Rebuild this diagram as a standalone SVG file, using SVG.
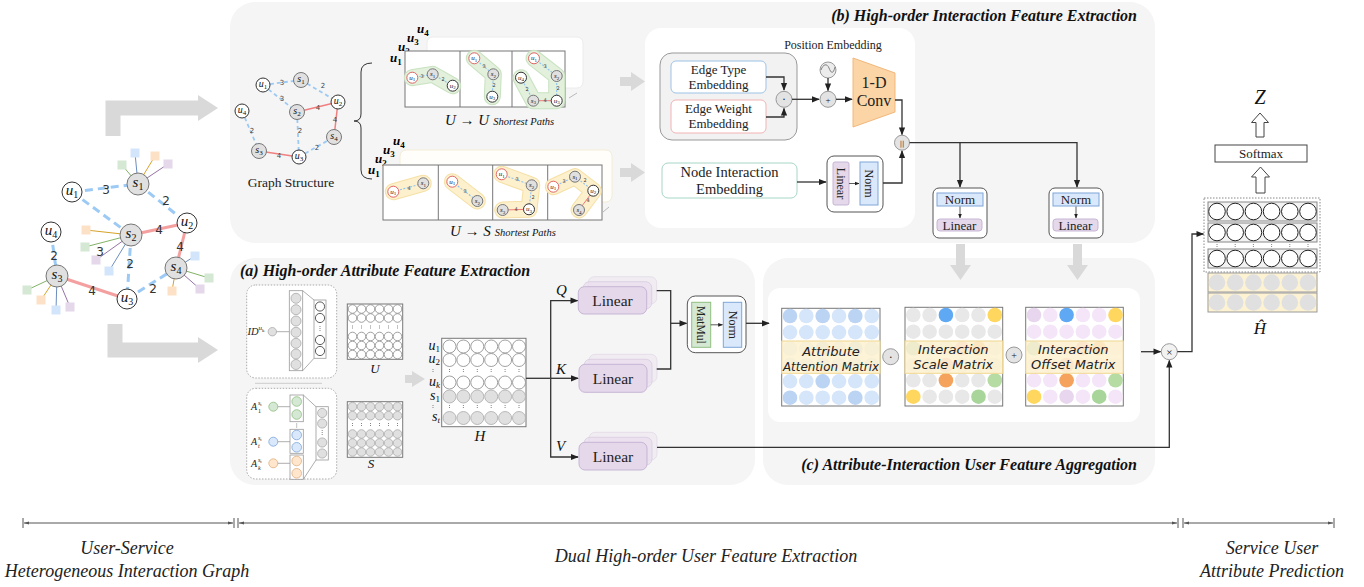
<svg xmlns="http://www.w3.org/2000/svg" width="1364" height="587" viewBox="0 0 1364 587">
<defs>
<style>
.pan{fill:#f5f5f5}
.serif{font-family:"Liberation Serif","Times New Roman",serif}
.it{font-style:italic}
.bi{font-style:italic;font-weight:bold}
.sans{font-family:"DejaVu Sans","Liberation Sans",sans-serif}
.un{fill:#fff;stroke:#333;stroke-width:1}
.ur{fill:#fff;stroke:#e06666;stroke-width:1}
.sn{fill:#e0e0e0;stroke:#777;stroke-width:1}
.de{stroke:#9ccaf5;stroke-width:3;stroke-dasharray:8 5;fill:none}
.re{stroke:#f4a0a0;stroke-width:3;fill:none}
.des{stroke:#9ccaf5;stroke-width:1.8;stroke-dasharray:4 3;fill:none}
.res{stroke:#f08080;stroke-width:1.5;fill:none}
.dec{stroke:#8fc3f3;stroke-width:1.1;stroke-dasharray:2 1.5;fill:none}
.rec{stroke:#ee7d7d;stroke-width:1;fill:none}
.el{font-family:"DejaVu Sans",sans-serif;font-size:12px;fill:#333;text-anchor:middle}
.els{font-family:"DejaVu Sans",sans-serif;font-size:7px;fill:#444;text-anchor:middle}
.elc{font-family:"DejaVu Sans",sans-serif;font-size:5px;fill:#444;text-anchor:middle}
.nl{font-family:"Liberation Serif",serif;font-style:italic;font-size:15px;text-anchor:middle;fill:#111}
.nls{font-family:"Liberation Serif",serif;font-style:italic;font-size:10px;text-anchor:middle;fill:#111}
.nlc{font-family:"Liberation Serif",serif;font-style:italic;font-size:7px;text-anchor:middle;fill:#111}
.sb{font-style:normal}
.c{stroke:#333;stroke-width:1.3;fill:none}
.ca{stroke:#333;stroke-width:1.3;fill:none;marker-end:url(#ah)}
.cs{stroke:#333;stroke-width:0.8;fill:none;marker-end:url(#ah)}
.ga{fill:#d9d9d9}
.box{fill:#fff;stroke:#555;stroke-width:1}
.norm{fill:#dae8fc;stroke:#7ea6d8;stroke-width:1}
.lin{fill:#e4d8ea;stroke:#c7b5d5;stroke-width:1}
.mm{fill:#d5e8d4;stroke:#8fbf80;stroke-width:1}
.lbl{font-family:"Liberation Serif","Times New Roman",serif;fill:#222;text-anchor:middle}
.op{fill:#e3e3e3;stroke:#999;stroke-width:1}
.mt{font-family:"DejaVu Sans",sans-serif;font-style:italic;font-size:13px;fill:#222;text-anchor:middle}
.band{fill:#fdf1cf;fill-opacity:0.85;stroke:#f0d890;stroke-width:1}
.mx{fill:#fff;stroke:#777;stroke-width:1}
.cw{fill:#fff;stroke:#888;stroke-width:0.8}
.cg{fill:#e0e0e0;stroke:#aaa;stroke-width:0.8}
.dots{stroke:#666;stroke-width:0.8;stroke-dasharray:1 1}
.ax{stroke:#555;stroke-width:1;fill:none}
.axt{font-family:"Liberation Serif","Times New Roman",serif;font-style:italic;font-size:18px;fill:#222;text-anchor:middle}
.ttl{font-family:"Liberation Serif","Times New Roman",serif;font-style:italic;font-weight:bold;font-size:16px;fill:#111}
</style>
<marker id="ah" viewBox="0 0 10 10" refX="9" refY="5" markerWidth="6" markerHeight="6" orient="auto"><path d="M0,1 L10,5 L0,9 z" fill="#222"/></marker>
<marker id="axm" viewBox="0 0 10 10" refX="10" refY="5" markerWidth="5" markerHeight="5" orient="auto-start-reverse"><path d="M0,2 L10,5 L0,8 z" fill="#555"/></marker>
</defs>
<rect width="1364" height="587" fill="#fff"/>

<!-- panels -->
<g id="panels">
<rect x="230" y="2" width="925" height="241" rx="25" class="pan"/>
<rect x="230" y="258" width="525" height="227" rx="25" class="pan"/>
<rect x="763" y="258" width="392" height="227" rx="25" class="pan"/>
<rect x="645" y="28" width="270" height="200" rx="16" fill="#fff"/>
<rect x="768" y="288" width="372" height="134" rx="12" fill="#fff"/>
<text x="1137" y="21" class="ttl" text-anchor="end" font-size="16.8">(b) High-order Interaction Feature Extraction</text>
<text x="240" y="276" class="ttl">(a) High-order Attribute Feature Extraction</text>
<text x="1137" y="470" class="ttl" text-anchor="end" font-size="15.6">(c) Attribute-Interaction User Feature Aggregation</text>
</g>

<!-- big gray arrows -->
<g id="gray-arrows">
<path d="M113,136 V108 H200" stroke="#d9d9d9" stroke-width="15" fill="none"/>
<polygon points="198,95 218,108 198,121" class="ga"/>
<path d="M115,324 V350 H200" stroke="#d9d9d9" stroke-width="15" fill="none"/>
<polygon points="198,337 218,350 198,363" class="ga"/>
<rect x="620" y="77" width="12" height="9" class="ga"/><polygon points="631,72 645,81.5 631,91" class="ga"/>
<rect x="620" y="168" width="12" height="9" class="ga"/><polygon points="631,163 645,172.5 631,182" class="ga"/>
<rect x="405" y="375" width="8" height="8" class="ga"/><polygon points="412,371 425,379 412,387" class="ga"/>
<rect x="956" y="244" width="9" height="22" class="ga"/><polygon points="950,265 960.5,280 971,265" class="ga"/>
<rect x="1073" y="244" width="9" height="22" class="ga"/><polygon points="1067,265 1077.5,280 1088,265" class="ga"/>
</g>

<!-- left heterogeneous graph -->
<g id="left-graph">
<g id="attrs">
<line x1="138" y1="184" x2="135" y2="153" stroke="#6c8ebf"/><line x1="138" y1="184" x2="155" y2="156" stroke="#d6a32a"/><line x1="138" y1="184" x2="122" y2="165" stroke="#82b366"/><line x1="138" y1="184" x2="168" y2="164" stroke="#9673a6"/>
<rect x="130.5" y="148.5" width="9" height="9" fill="#d3e5fb"/><rect x="150.5" y="151.5" width="9" height="9" fill="#fde1c6"/><rect x="117.5" y="160.5" width="9" height="9" fill="#d5e8d4"/><rect x="163.5" y="159.5" width="9" height="9" fill="#e4d8ea"/>
<line x1="131" y1="235" x2="86" y2="230" stroke="#d6a32a"/><line x1="131" y1="235" x2="85" y2="247" stroke="#82b366"/><line x1="131" y1="235" x2="96" y2="260" stroke="#9673a6"/><line x1="131" y1="235" x2="109" y2="271" stroke="#6c8ebf"/>
<rect x="81.5" y="225.5" width="9" height="9" fill="#fde1c6"/><rect x="80.5" y="242.5" width="9" height="9" fill="#d5e8d4"/><rect x="91.5" y="255.5" width="9" height="9" fill="#e4d8ea"/><rect x="104.5" y="266.5" width="9" height="9" fill="#d3e5fb"/>
<line x1="57" y1="276" x2="27" y2="290" stroke="#82b366"/><line x1="57" y1="276" x2="41" y2="300" stroke="#d6a32a"/><line x1="57" y1="276" x2="56" y2="310" stroke="#6c8ebf"/><line x1="57" y1="276" x2="70" y2="307" stroke="#9673a6"/>
<rect x="22.5" y="285.5" width="9" height="9" fill="#d5e8d4"/><rect x="36.5" y="295.5" width="9" height="9" fill="#fde1c6"/><rect x="51.5" y="305.5" width="9" height="9" fill="#d3e5fb"/><rect x="65.5" y="302.5" width="9" height="9" fill="#e4d8ea"/>
<line x1="176" y1="268" x2="195" y2="256" stroke="#6c8ebf"/><line x1="176" y1="268" x2="209" y2="278" stroke="#82b366"/><line x1="176" y1="268" x2="200" y2="289" stroke="#9673a6"/><line x1="176" y1="268" x2="172" y2="291" stroke="#d6a32a"/>
<rect x="190.5" y="251.5" width="9" height="9" fill="#d3e5fb"/><rect x="204.5" y="273.5" width="9" height="9" fill="#d5e8d4"/><rect x="195.5" y="284.5" width="9" height="9" fill="#e4d8ea"/><rect x="167.5" y="286.5" width="9" height="9" fill="#fde1c6"/>
</g>
<g id="left-edges">
<line x1="72" y1="192" x2="138" y2="184" class="de"/>
<line x1="72" y1="192" x2="131" y2="235" class="de"/>
<line x1="138" y1="184" x2="187" y2="223" class="de"/>
<line x1="131" y1="235" x2="187" y2="223" class="re"/>
<line x1="187" y1="223" x2="176" y2="268" class="re"/>
<line x1="51" y1="232" x2="57" y2="276" class="de"/>
<line x1="57" y1="276" x2="127" y2="299" class="re"/>
<line x1="131" y1="235" x2="127" y2="299" class="de"/>
<line x1="127" y1="299" x2="176" y2="268" class="de"/>
<text x="106" y="194" class="el">3</text>
<text x="100" y="256" class="el">3</text>
<text x="166" y="205" class="el">2</text>
<text x="159" y="234" class="el">4</text>
<text x="180" y="251" class="el">4</text>
<text x="54" y="260" class="el">2</text>
<text x="92" y="295" class="el">4</text>
<text x="130" y="268" class="el">2</text>
<text x="153" y="293" class="el">2</text>
</g>
<g id="L-u1"><circle cx="72" cy="192" r="10" class="un"/><text x="72" y="195" class="nl">u<tspan class="sb" font-size="10" dy="3">1</tspan></text></g>
<g id="L-s1"><circle cx="138" cy="184" r="11" class="sn"/><text x="138" y="187" class="nl">s<tspan class="sb" font-size="10" dy="3">1</tspan></text></g>
<g id="L-u2"><circle cx="187" cy="223" r="10" class="un"/><text x="187" y="226" class="nl">u<tspan class="sb" font-size="10" dy="3">2</tspan></text></g>
<g id="L-s2"><circle cx="131" cy="235" r="11" class="sn"/><text x="131" y="238" class="nl">s<tspan class="sb" font-size="10" dy="3">2</tspan></text></g>
<g id="L-u4"><circle cx="51" cy="232" r="10" class="un"/><text x="51" y="235" class="nl">u<tspan class="sb" font-size="10" dy="3">4</tspan></text></g>
<g id="L-s3"><circle cx="57" cy="276" r="11" class="sn"/><text x="57" y="279" class="nl">s<tspan class="sb" font-size="10" dy="3">3</tspan></text></g>
<g id="L-s4"><circle cx="176" cy="268" r="11" class="sn"/><text x="176" y="271" class="nl">s<tspan class="sb" font-size="10" dy="3">4</tspan></text></g>
<g id="L-u3"><circle cx="127" cy="299" r="10" class="un"/><text x="127" y="302" class="nl">u<tspan class="sb" font-size="10" dy="3">3</tspan></text></g>
</g>

<!-- graph structure in (b) -->
<g id="graph-structure">
<line x1="263" y1="85" x2="301" y2="80" class="des"/>
<line x1="263" y1="85" x2="297" y2="112" class="des"/>
<line x1="301" y1="80" x2="338" y2="102" class="des"/>
<line x1="297" y1="112" x2="338" y2="102" class="res"/>
<line x1="338" y1="102" x2="334" y2="137" class="res"/>
<line x1="242" y1="111" x2="259" y2="151" class="des"/>
<line x1="259" y1="151" x2="299" y2="157" class="res"/>
<line x1="297" y1="112" x2="299" y2="157" class="des"/>
<line x1="299" y1="157" x2="334" y2="137" class="des"/>
<text x="282" y="85" class="els">3</text><text x="282" y="101" class="els">3</text><text x="323" y="88" class="els">2</text><text x="318" y="110" class="els">4</text><text x="335" y="122" class="els">4</text><text x="252" y="133" class="els">2</text><text x="279" y="158" class="els">4</text><text x="300" y="133" class="els">2</text><text x="317" y="150" class="els">2</text>
<circle cx="263" cy="85" r="7" class="un"/><text x="263" y="87" class="nls">u<tspan class="sb" font-size="7" dy="2">1</tspan></text>
<circle cx="301" cy="80" r="7.5" class="sn"/><text x="301" y="82" class="nls">s<tspan class="sb" font-size="7" dy="2">1</tspan></text>
<circle cx="338" cy="102" r="7" class="un"/><text x="338" y="104" class="nls">u<tspan class="sb" font-size="7" dy="2">2</tspan></text>
<circle cx="297" cy="112" r="7.5" class="sn"/><text x="297" y="114" class="nls">s<tspan class="sb" font-size="7" dy="2">2</tspan></text>
<circle cx="242" cy="111" r="7" class="un"/><text x="242" y="113" class="nls">u<tspan class="sb" font-size="7" dy="2">4</tspan></text>
<circle cx="259" cy="151" r="7.5" class="sn"/><text x="259" y="153" class="nls">s<tspan class="sb" font-size="7" dy="2">3</tspan></text>
<circle cx="299" cy="157" r="7" class="un"/><text x="299" y="159" class="nls">u<tspan class="sb" font-size="7" dy="2">3</tspan></text>
<circle cx="334" cy="137" r="7.5" class="sn"/><text x="334" y="139" class="nls">s<tspan class="sb" font-size="7" dy="2">4</tspan></text>
<text x="291" y="187" class="lbl" font-size="13.5">Graph Structure</text>
<path d="M372,63 Q361,63 361,72 V114 Q361,121 354,121 Q361,121 361,128 V170 Q361,179 372,179" fill="none" stroke="#333" stroke-width="1"/>
</g>

<!-- U->U shortest paths -->
<g id="uu-paths">
<rect x="427" y="37" width="156" height="51" rx="6" fill="#fff" stroke="#ececec"/>
<text x="417" y="33" class="serif bi" font-size="13">u<tspan class="sb" font-size="9" dy="3">4</tspan></text>
<text x="407" y="42" class="serif bi" font-size="13">u<tspan class="sb" font-size="9" dy="3">3</tspan></text>
<text x="398" y="51" class="serif bi" font-size="13">u<tspan class="sb" font-size="9" dy="3">2</tspan></text>
<text x="390" y="62" class="serif bi" font-size="13">u<tspan class="sb" font-size="9" dy="3">1</tspan></text>
<rect x="405" y="51" width="160" height="56" fill="#fff" stroke="#777"/>
<line x1="460" y1="51" x2="460" y2="107" stroke="#777"/><line x1="512" y1="51" x2="512" y2="107" stroke="#777"/>
<line x1="569" y1="98" x2="577" y2="93" stroke="#aaa" stroke-width="0.8"/>
<g fill="none" stroke-linecap="round" stroke-linejoin="round">
<polyline points="412.3,77.7 432.7,74.3 452.7,85.7" stroke="#c8e2c0" stroke-width="17"/>
<polyline points="474.3,58.3 493.3,74.3 492.3,96.7" stroke="#c8e2c0" stroke-width="17"/>
<polyline points="534,58.3 556.7,76 556.7,100.7 533.3,100.7 521,77.7" stroke="#c8e2c0" stroke-width="17"/>
<polyline points="412.3,77.7 432.7,74.3 452.7,85.7" stroke="#e2f0dc" stroke-width="15"/>
<polyline points="474.3,58.3 493.3,74.3 492.3,96.7" stroke="#e2f0dc" stroke-width="15"/>
<polyline points="534,58.3 556.7,76 556.7,100.7 533.3,100.7 521,77.7" stroke="#e2f0dc" stroke-width="15"/>
</g>
<line x1="412.3" y1="77.7" x2="432.7" y2="74.3" class="dec"/><line x1="432.7" y1="74.3" x2="452.7" y2="85.7" class="dec"/>
<line x1="474.3" y1="58.3" x2="493.3" y2="74.3" class="dec"/><line x1="493.3" y1="74.3" x2="492.3" y2="96.7" class="dec"/>
<line x1="534" y1="58.3" x2="556.7" y2="76" class="dec"/><line x1="556.7" y1="76" x2="556.7" y2="100.7" class="dec"/><line x1="556.7" y1="100.7" x2="533.3" y2="100.7" class="rec"/><line x1="533.3" y1="100.7" x2="521" y2="77.7" class="dec"/>
<text x="422" y="78" class="elc">3</text><text x="443" y="81" class="elc">2</text>
<text x="484" y="68" class="elc">3</text><text x="494" y="87" class="elc">2</text>
<text x="545" y="68" class="elc">3</text><text x="558" y="90" class="elc">2</text><text x="545" y="102" class="elc">4</text><text x="527" y="91" class="elc">2</text>
<circle cx="412.3" cy="77.7" r="5.5" class="ur"/><text x="412.3" y="79.5" class="nlc">u<tspan class="sb" font-size="5" dy="1.5">1</tspan></text>
<circle cx="432.7" cy="74.3" r="5.5" class="sn"/><text x="432.7" y="76" class="nlc">s<tspan class="sb" font-size="5" dy="1.5">1</tspan></text>
<circle cx="452.7" cy="85.7" r="5.5" class="un"/><text x="452.7" y="87.5" class="nlc">u<tspan class="sb" font-size="5" dy="1.5">2</tspan></text>
<circle cx="474.3" cy="58.3" r="5.5" class="ur"/><text x="474.3" y="60" class="nlc">u<tspan class="sb" font-size="5" dy="1.5">1</tspan></text>
<circle cx="493.3" cy="74.3" r="5.5" class="sn"/><text x="493.3" y="76" class="nlc">s<tspan class="sb" font-size="5" dy="1.5">2</tspan></text>
<circle cx="492.3" cy="96.7" r="5.5" class="un"/><text x="492.3" y="98.5" class="nlc">u<tspan class="sb" font-size="5" dy="1.5">3</tspan></text>
<circle cx="534" cy="58.3" r="5.5" class="ur"/><text x="534" y="60" class="nlc">u<tspan class="sb" font-size="5" dy="1.5">1</tspan></text>
<circle cx="556.7" cy="76" r="5.5" class="sn"/><text x="556.7" y="78" class="nlc">s<tspan class="sb" font-size="5" dy="1.5">2</tspan></text>
<circle cx="556.7" cy="100.7" r="5.5" class="un"/><text x="556.7" y="102.5" class="nlc">u<tspan class="sb" font-size="5" dy="1.5">3</tspan></text>
<circle cx="533.3" cy="100.7" r="5.5" class="sn"/><text x="533.3" y="102.5" class="nlc">s<tspan class="sb" font-size="5" dy="1.5">3</tspan></text>
<circle cx="521" cy="77.7" r="5.5" class="un"/><text x="521" y="79.5" class="nlc">u<tspan class="sb" font-size="5" dy="1.5">4</tspan></text>
<text x="445" y="125" class="serif it" font-size="15" fill="#111">U → U<tspan font-size="10.5" dx="4">Shortest Paths</tspan></text>
</g>

<!-- U->S shortest paths -->
<g id="us-paths">
<rect x="400" y="150" width="212" height="52" rx="6" fill="#fffefa" stroke="#f3ecd5"/>
<text x="393" y="145" class="serif bi" font-size="13">u<tspan class="sb" font-size="9" dy="3">4</tspan></text>
<text x="383" y="154" class="serif bi" font-size="13">u<tspan class="sb" font-size="9" dy="3">3</tspan></text>
<text x="375" y="163" class="serif bi" font-size="13">u<tspan class="sb" font-size="9" dy="3">2</tspan></text>
<text x="368" y="174" class="serif bi" font-size="13">u<tspan class="sb" font-size="9" dy="3">1</tspan></text>
<rect x="383" y="165" width="219" height="55" fill="#fff" stroke="#777"/>
<line x1="438.3" y1="165" x2="438.3" y2="220" stroke="#777"/><line x1="492.7" y1="165" x2="492.7" y2="220" stroke="#777"/><line x1="547.7" y1="165" x2="547.7" y2="220" stroke="#777"/>
<line x1="603" y1="212" x2="609" y2="207" stroke="#aaa" stroke-width="0.8"/>
<g fill="none" stroke-linecap="round" stroke-linejoin="round">
<polyline points="393.3,191.7 423.3,183.3" stroke="#f5e0a6" stroke-width="17"/>
<polyline points="452.3,181.7 477.3,201" stroke="#f5e0a6" stroke-width="17"/>
<polyline points="501.7,174.3 531.7,185.3 529,209.3 502.7,210" stroke="#f5e0a6" stroke-width="17"/>
<polyline points="553.3,186.7 575,176.7 593.3,190.7 579,210" stroke="#f5e0a6" stroke-width="17"/>
<polyline points="393.3,191.7 423.3,183.3" stroke="#fdf0cd" stroke-width="15"/>
<polyline points="452.3,181.7 477.3,201" stroke="#fdf0cd" stroke-width="15"/>
<polyline points="501.7,174.3 531.7,185.3 529,209.3 502.7,210" stroke="#fdf0cd" stroke-width="15"/>
<polyline points="553.3,186.7 575,176.7 593.3,190.7 579,210" stroke="#fdf0cd" stroke-width="15"/>
</g>
<line x1="393.3" y1="191.7" x2="423.3" y2="183.3" class="dec"/>
<line x1="452.3" y1="181.7" x2="477.3" y2="201" class="dec"/>
<line x1="501.7" y1="174.3" x2="531.7" y2="185.3" class="dec"/><line x1="531.7" y1="185.3" x2="529" y2="209.3" class="dec"/><line x1="529" y1="209.3" x2="502.7" y2="210" class="rec"/>
<line x1="553.3" y1="186.7" x2="575" y2="176.7" class="dec"/><line x1="575" y1="176.7" x2="593.3" y2="190.7" class="dec"/><line x1="593.3" y1="190.7" x2="579" y2="210" class="rec"/>
<text x="409" y="190" class="elc">4</text>
<text x="465" y="193" class="elc">3</text>
<text x="517" y="181" class="elc">3</text><text x="533" y="199" class="elc">2</text><text x="516" y="211" class="elc">4</text>
<text x="564" y="183" class="elc">3</text><text x="585" y="182" class="elc">2</text><text x="588" y="202" class="elc">4</text>
<circle cx="393.3" cy="191.7" r="5.5" class="ur"/><text x="393.3" y="193.5" class="nlc">u<tspan class="sb" font-size="5" dy="1.5">1</tspan></text>
<circle cx="423.3" cy="183.3" r="5.5" class="sn"/><text x="423.3" y="185" class="nlc">s<tspan class="sb" font-size="5" dy="1.5">1</tspan></text>
<circle cx="452.3" cy="181.7" r="5.5" class="ur"/><text x="452.3" y="183.5" class="nlc">u<tspan class="sb" font-size="5" dy="1.5">1</tspan></text>
<circle cx="477.3" cy="201" r="5.5" class="sn"/><text x="477.3" y="203" class="nlc">s<tspan class="sb" font-size="5" dy="1.5">2</tspan></text>
<circle cx="501.7" cy="174.3" r="5.5" class="ur"/><text x="501.7" y="176" class="nlc">u<tspan class="sb" font-size="5" dy="1.5">1</tspan></text>
<circle cx="531.7" cy="185.3" r="5.5" class="sn"/><text x="531.7" y="187" class="nlc">s<tspan class="sb" font-size="5" dy="1.5">2</tspan></text>
<circle cx="529" cy="209.3" r="5.5" class="un"/><text x="529" y="211" class="nlc">u<tspan class="sb" font-size="5" dy="1.5">3</tspan></text>
<circle cx="502.7" cy="210" r="5.5" class="sn"/><text x="502.7" y="212" class="nlc">s<tspan class="sb" font-size="5" dy="1.5">3</tspan></text>
<circle cx="553.3" cy="186.7" r="5.5" class="ur"/><text x="553.3" y="188.5" class="nlc">u<tspan class="sb" font-size="5" dy="1.5">1</tspan></text>
<circle cx="575" cy="176.7" r="5.5" class="sn"/><text x="575" y="178.5" class="nlc">s<tspan class="sb" font-size="5" dy="1.5">1</tspan></text>
<circle cx="593.3" cy="190.7" r="5.5" class="un"/><text x="593.3" y="192.5" class="nlc">u<tspan class="sb" font-size="5" dy="1.5">2</tspan></text>
<circle cx="579" cy="210" r="5.5" class="sn"/><text x="579" y="212" class="nlc">s<tspan class="sb" font-size="5" dy="1.5">4</tspan></text>
<text x="450" y="236" class="serif it" font-size="15" fill="#111">U → S<tspan font-size="10.5" dx="4">Shortest Paths</tspan></text>
</g>

<!-- embeddings -->
<g id="edge-emb-group"><rect x="660" y="53" width="137" height="87" rx="12" fill="#f2f2f2" stroke="#999"/></g>
<g id="edge-type"><rect x="671" y="61" width="95" height="32" rx="5" fill="#fff" stroke="#9dc3e6"/><text x="718.5" y="74" class="lbl" font-size="13">Edge Type</text><text x="718.5" y="89" class="lbl" font-size="13">Embedding</text></g>
<g id="edge-weight"><rect x="671" y="100" width="95" height="33" rx="5" fill="#fff" stroke="#f2b3b3"/><text x="718.5" y="113" class="lbl" font-size="13">Edge Weight</text><text x="718.5" y="128" class="lbl" font-size="13">Embedding</text></g>
<g id="dot-op"><circle cx="784" cy="99.3" r="8" class="op"/><text x="784" y="103" class="lbl" font-size="12">·</text></g>
<g id="plus-op"><circle cx="828" cy="99.3" r="8" class="op"/><text x="828" y="102.5" class="lbl" font-size="9">+</text></g>
<g id="pos-emb"><circle cx="828" cy="70" r="8" fill="#ececec" stroke="#999"/><path d="M821,70 C823,64 827,63 829,68 S833,75 835,67" fill="none" stroke="#666" stroke-width="0.8"/><text x="833" y="49" class="lbl" font-size="12">Position Embedding</text></g>
<g id="conv"><polygon points="853,58 895,73 895,112 853,127" fill="#fbd5a5" stroke="#f2b77a"/><text x="874" y="88" class="lbl" font-size="16">1-D</text><text x="874" y="106" class="lbl" font-size="16">Conv</text></g>
<g id="concat"><circle cx="902" cy="142.7" r="7.5" class="op" fill="#eee"/><text x="902" y="145.5" class="sans" font-size="7" text-anchor="middle" fill="#333">||</text></g>
<g id="node-inter"><rect x="662" y="163" width="135" height="35" rx="6" fill="#fff" stroke="#a6d6c4"/><text x="729.5" y="177" class="lbl" font-size="14.5">Node Interaction</text><text x="729.5" y="194" class="lbl" font-size="14.5">Embedding</text></g>
<g id="lin-norm-b"><rect x="827" y="156" width="56" height="56" rx="7" class="box"/><rect x="833" y="162" width="16" height="43" rx="2" class="lin"/><rect x="860" y="162" width="18" height="43" class="norm"/><text transform="translate(841,183.5) rotate(90)" class="lbl" font-size="12" dominant-baseline="central">Linear</text><text transform="translate(869,183.5) rotate(90)" class="lbl" font-size="12" dominant-baseline="central">Norm</text></g>
<g id="norm-lin-1"><rect x="933" y="188" width="54" height="50" rx="6" class="box"/><rect x="937" y="193" width="46" height="13" class="norm"/><text x="960" y="204" class="lbl" font-size="13">Norm</text><rect x="937" y="219" width="45" height="12" rx="3" class="lin"/><text x="959.5" y="229.5" class="lbl" font-size="13">Linear</text></g>
<g id="norm-lin-2"><rect x="1049" y="188" width="54" height="50" rx="6" class="box"/><rect x="1053" y="193" width="46" height="13" class="norm"/><text x="1076" y="204" class="lbl" font-size="13">Norm</text><rect x="1053" y="219" width="45" height="12" rx="3" class="lin"/><text x="1075.5" y="229.5" class="lbl" font-size="13">Linear</text></g>

<!-- panel (a) -->
<g id="id-encoder">
<rect x="246.7" y="285" width="90" height="93" rx="9" fill="#fff" stroke="#aaa" stroke-dasharray="1.5 1.5"/>
<text x="247.5" y="335" class="serif it" font-size="10.5" fill="#222">ID<tspan font-size="7" dy="-5">u</tspan><tspan class="sb" font-size="5" dy="1.5">k</tspan></text>
<circle cx="272.3" cy="331.7" r="4.2" class="cg"/>
<line x1="276.5" y1="331.7" x2="289.3" y2="331.7" stroke="#999" stroke-width="0.8"/>
<rect x="289.3" y="290.7" width="13.4" height="80" fill="#fff" stroke="#999" stroke-width="0.8"/>
<circle cx="296" cy="298.3" r="5" class="cg"/><circle cx="296" cy="309.7" r="5" class="cg"/><circle cx="296" cy="321" r="5" class="cg"/><circle cx="296" cy="332.3" r="5" class="cg"/><circle cx="296" cy="343.3" r="5" class="cg"/><circle cx="296" cy="354" r="5" class="cg"/><circle cx="296" cy="364.5" r="5" class="cg"/>
<line x1="302.7" y1="290.7" x2="314" y2="300" stroke="#999" stroke-width="0.8"/><line x1="302.7" y1="370.7" x2="314" y2="358.3" stroke="#999" stroke-width="0.8"/>
<rect x="314" y="300" width="12" height="58.3" fill="#fff" stroke="#999" stroke-width="0.8"/>
<circle cx="320" cy="306.5" r="4.6" fill="#fff" stroke="#333" stroke-width="0.8"/><circle cx="320" cy="318" r="4.6" fill="#fff" stroke="#333" stroke-width="0.8"/><line x1="320" y1="326" x2="320" y2="332" class="dots"/><circle cx="320" cy="340" r="4.6" fill="#fff" stroke="#333" stroke-width="0.8"/><circle cx="320" cy="351" r="4.6" fill="#fff" stroke="#333" stroke-width="0.8"/>
</g>
<line x1="255" y1="383.3" x2="322" y2="383.3" stroke="#ccc" stroke-width="1"/>
<g id="attr-encoder">
<rect x="246.7" y="388.3" width="90" height="90.7" rx="9" fill="#fff" stroke="#aaa" stroke-dasharray="1.5 1.5"/>
<text x="251" y="410" class="serif it" font-size="10" fill="#222">A</text><text x="258" y="405" class="serif it" font-size="6" fill="#222">s<tspan class="sb" font-size="4.5" dy="1">t</tspan></text><text x="258" y="412.5" class="serif" font-size="6" fill="#222">1</text>
<text x="251" y="445" class="serif it" font-size="10" fill="#222">A</text><text x="258" y="440" class="serif it" font-size="6" fill="#222">s<tspan class="sb" font-size="4.5" dy="1">t</tspan></text><text x="258" y="447.5" class="serif it" font-size="6" fill="#222">t</text>
<text x="251" y="467" class="serif it" font-size="10" fill="#222">A</text><text x="258" y="462" class="serif it" font-size="6" fill="#222">s<tspan class="sb" font-size="4.5" dy="1">t</tspan></text><text x="258" y="469.5" class="serif it" font-size="6" fill="#222">k</text>
<circle cx="273.3" cy="406.7" r="4.5" fill="#d5e8d4" stroke="#8fbf80" stroke-width="0.8"/><circle cx="273.3" cy="441.7" r="4.5" fill="#dae8fc" stroke="#7ea6d8" stroke-width="0.8"/><circle cx="273.3" cy="463.3" r="4.5" fill="#ffe6cc" stroke="#e0b080" stroke-width="0.8"/>
<line x1="277.8" y1="406.7" x2="290" y2="406.7" stroke="#999" stroke-width="0.8"/><line x1="277.8" y1="441.7" x2="290" y2="441.7" stroke="#999" stroke-width="0.8"/><line x1="277.8" y1="463.3" x2="290" y2="463.3" stroke="#999" stroke-width="0.8"/>
<rect x="290" y="395" width="13.3" height="26.7" fill="#fff" stroke="#999" stroke-width="0.8"/><circle cx="296.7" cy="401.5" r="4.8" fill="#d5e8d4" stroke="#8fbf80" stroke-width="0.8"/><circle cx="296.7" cy="414.5" r="4.8" fill="#d5e8d4" stroke="#8fbf80" stroke-width="0.8"/>
<line x1="296.7" y1="423.5" x2="296.7" y2="428" class="dots"/>
<rect x="290" y="429.3" width="13.3" height="24" fill="#fff" stroke="#999" stroke-width="0.8"/><circle cx="296.7" cy="435" r="4.8" fill="#dae8fc" stroke="#7ea6d8" stroke-width="0.8"/><circle cx="296.7" cy="447.3" r="4.8" fill="#dae8fc" stroke="#7ea6d8" stroke-width="0.8"/>
<rect x="290" y="455" width="13.3" height="24.3" fill="#fff" stroke="#999" stroke-width="0.8"/><circle cx="296.7" cy="461" r="4.8" fill="#ffe6cc" stroke="#e0b080" stroke-width="0.8"/><circle cx="296.7" cy="473.3" r="4.8" fill="#ffe6cc" stroke="#e0b080" stroke-width="0.8"/>
<line x1="303.3" y1="395" x2="316" y2="406.7" stroke="#999" stroke-width="0.8"/><line x1="303.3" y1="479.3" x2="316" y2="460" stroke="#999" stroke-width="0.8"/>
<rect x="316" y="406.7" width="12.3" height="53.3" fill="#fff" stroke="#999" stroke-width="0.8"/>
<circle cx="322.2" cy="413" r="4.6" class="cg"/><circle cx="322.2" cy="423.5" r="4.6" class="cg"/><line x1="322.2" y1="430" x2="322.2" y2="436" class="dots"/><circle cx="322.2" cy="442.5" r="4.6" class="cg"/><circle cx="322.2" cy="453.5" r="4.6" class="cg"/>
</g>
<g id="U-matrix">
<rect x="347.3" y="304" width="55.4" height="55.3" class="mx"/>
<g class="cw">
<circle cx="352.5" cy="309" r="4.3"/><circle cx="361.5" cy="309" r="4.3"/><circle cx="370.5" cy="309" r="4.3"/><circle cx="379.5" cy="309" r="4.3"/><circle cx="388.5" cy="309" r="4.3"/><circle cx="397.5" cy="309" r="4.3"/>
<circle cx="352.5" cy="318" r="4.3"/><circle cx="361.5" cy="318" r="4.3"/><circle cx="370.5" cy="318" r="4.3"/><circle cx="379.5" cy="318" r="4.3"/><circle cx="388.5" cy="318" r="4.3"/><circle cx="397.5" cy="318" r="4.3"/>
<circle cx="352.5" cy="336.5" r="4.3"/><circle cx="361.5" cy="336.5" r="4.3"/><circle cx="370.5" cy="336.5" r="4.3"/><circle cx="379.5" cy="336.5" r="4.3"/><circle cx="388.5" cy="336.5" r="4.3"/><circle cx="397.5" cy="336.5" r="4.3"/>
<circle cx="352.5" cy="345.5" r="4.3"/><circle cx="361.5" cy="345.5" r="4.3"/><circle cx="370.5" cy="345.5" r="4.3"/><circle cx="379.5" cy="345.5" r="4.3"/><circle cx="388.5" cy="345.5" r="4.3"/><circle cx="397.5" cy="345.5" r="4.3"/>
<circle cx="352.5" cy="354.5" r="4.3"/><circle cx="361.5" cy="354.5" r="4.3"/><circle cx="370.5" cy="354.5" r="4.3"/><circle cx="379.5" cy="354.5" r="4.3"/><circle cx="388.5" cy="354.5" r="4.3"/><circle cx="397.5" cy="354.5" r="4.3"/>
</g>
<g class="dots"><line x1="352.5" y1="325.5" x2="352.5" y2="329.5"/><line x1="361.5" y1="325.5" x2="361.5" y2="329.5"/><line x1="370.5" y1="325.5" x2="370.5" y2="329.5"/><line x1="379.5" y1="325.5" x2="379.5" y2="329.5"/><line x1="388.5" y1="325.5" x2="388.5" y2="329.5"/><line x1="397.5" y1="325.5" x2="397.5" y2="329.5"/></g>
<text x="375" y="373" class="serif it" font-size="13" text-anchor="middle" fill="#111">U</text>
</g>
<g id="S-matrix">
<rect x="347.3" y="401.7" width="55.4" height="55.6" class="mx"/>
<g class="cg">
<circle cx="352.5" cy="406.7" r="4.3"/><circle cx="361.5" cy="406.7" r="4.3"/><circle cx="370.5" cy="406.7" r="4.3"/><circle cx="379.5" cy="406.7" r="4.3"/><circle cx="388.5" cy="406.7" r="4.3"/><circle cx="397.5" cy="406.7" r="4.3"/>
<circle cx="352.5" cy="415.7" r="4.3"/><circle cx="361.5" cy="415.7" r="4.3"/><circle cx="370.5" cy="415.7" r="4.3"/><circle cx="379.5" cy="415.7" r="4.3"/><circle cx="388.5" cy="415.7" r="4.3"/><circle cx="397.5" cy="415.7" r="4.3"/>
<circle cx="352.5" cy="434" r="4.3"/><circle cx="361.5" cy="434" r="4.3"/><circle cx="370.5" cy="434" r="4.3"/><circle cx="379.5" cy="434" r="4.3"/><circle cx="388.5" cy="434" r="4.3"/><circle cx="397.5" cy="434" r="4.3"/>
<circle cx="352.5" cy="443" r="4.3"/><circle cx="361.5" cy="443" r="4.3"/><circle cx="370.5" cy="443" r="4.3"/><circle cx="379.5" cy="443" r="4.3"/><circle cx="388.5" cy="443" r="4.3"/><circle cx="397.5" cy="443" r="4.3"/>
<circle cx="352.5" cy="452" r="4.3"/><circle cx="361.5" cy="452" r="4.3"/><circle cx="370.5" cy="452" r="4.3"/><circle cx="379.5" cy="452" r="4.3"/><circle cx="388.5" cy="452" r="4.3"/><circle cx="397.5" cy="452" r="4.3"/>
</g>
<g class="dots"><line x1="352.5" y1="423" x2="352.5" y2="427"/><line x1="361.5" y1="423" x2="361.5" y2="427"/><line x1="370.5" y1="423" x2="370.5" y2="427"/><line x1="379.5" y1="423" x2="379.5" y2="427"/><line x1="388.5" y1="423" x2="388.5" y2="427"/><line x1="397.5" y1="423" x2="397.5" y2="427"/></g>
<text x="371" y="468" class="serif it" font-size="13" text-anchor="middle" fill="#111">S</text>
</g>
<g id="H-matrix">
<rect x="441.7" y="338.3" width="84.3" height="88.4" class="mx"/>
<g class="cw">
<circle cx="449.5" cy="346.5" r="6.5"/><circle cx="463.4" cy="346.5" r="6.5"/><circle cx="477.3" cy="346.5" r="6.5"/><circle cx="491.2" cy="346.5" r="6.5"/><circle cx="505.1" cy="346.5" r="6.5"/><circle cx="519" cy="346.5" r="6.5"/>
<circle cx="449.5" cy="360" r="6.5"/><circle cx="463.4" cy="360" r="6.5"/><circle cx="477.3" cy="360" r="6.5"/><circle cx="491.2" cy="360" r="6.5"/><circle cx="505.1" cy="360" r="6.5"/><circle cx="519" cy="360" r="6.5"/>
<circle cx="449.5" cy="382.5" r="6.5"/><circle cx="463.4" cy="382.5" r="6.5"/><circle cx="477.3" cy="382.5" r="6.5"/><circle cx="491.2" cy="382.5" r="6.5"/><circle cx="505.1" cy="382.5" r="6.5"/><circle cx="519" cy="382.5" r="6.5"/>
</g>
<g class="cg">
<circle cx="449.5" cy="396.5" r="6.5"/><circle cx="463.4" cy="396.5" r="6.5"/><circle cx="477.3" cy="396.5" r="6.5"/><circle cx="491.2" cy="396.5" r="6.5"/><circle cx="505.1" cy="396.5" r="6.5"/><circle cx="519" cy="396.5" r="6.5"/>
<circle cx="449.5" cy="418" r="6.5"/><circle cx="463.4" cy="418" r="6.5"/><circle cx="477.3" cy="418" r="6.5"/><circle cx="491.2" cy="418" r="6.5"/><circle cx="505.1" cy="418" r="6.5"/><circle cx="519" cy="418" r="6.5"/>
</g>
<g class="dots"><line x1="449.5" y1="369" x2="449.5" y2="373"/><line x1="463.4" y1="369" x2="463.4" y2="373"/><line x1="477.3" y1="369" x2="477.3" y2="373"/><line x1="491.2" y1="369" x2="491.2" y2="373"/><line x1="505.1" y1="369" x2="505.1" y2="373"/><line x1="519" y1="369" x2="519" y2="373"/>
<line x1="449.5" y1="405" x2="449.5" y2="409"/><line x1="463.4" y1="405" x2="463.4" y2="409"/><line x1="477.3" y1="405" x2="477.3" y2="409"/><line x1="491.2" y1="405" x2="491.2" y2="409"/><line x1="505.1" y1="405" x2="505.1" y2="409"/><line x1="519" y1="405" x2="519" y2="409"/></g>
<g class="serif it" font-size="14" fill="#111" text-anchor="end">
<text x="440" y="350">u<tspan class="sb" font-size="9" dy="2">1</tspan></text>
<text x="440" y="363">u<tspan class="sb" font-size="9" dy="2">2</tspan></text>
<text x="440" y="385.5">u<tspan font-size="9" dy="2">k</tspan></text>
<text x="440" y="399.5">s<tspan class="sb" font-size="9" dy="2">1</tspan></text>
<text x="440" y="421">s<tspan font-size="9" dy="2">t</tspan></text>
</g>
<g class="dots"><line x1="433" y1="369" x2="433" y2="373"/><line x1="433" y1="405" x2="433" y2="409"/></g>
<text x="480" y="441" class="serif it" font-size="15" text-anchor="middle" fill="#111">H</text>
</g>
<g id="linear-q"><rect x="588.3" y="276.7" width="68.4" height="27.3" rx="6" fill="#ece4f0" fill-opacity="0.5" stroke="#ddd3e3" stroke-opacity="0.6"/><rect x="583.3" y="281.7" width="68.4" height="27.3" rx="6" fill="#e8ddee" fill-opacity="0.7" stroke="#d6c9de" stroke-opacity="0.7"/><rect x="578.3" y="286.7" width="68.4" height="27.3" rx="6" class="lin"/><text x="612.5" y="305.5" class="lbl" font-size="15.5">Linear</text></g>
<g id="linear-k"><rect x="589" y="354.3" width="68" height="28" rx="6" fill="#ece4f0" fill-opacity="0.5" stroke="#ddd3e3" stroke-opacity="0.6"/><rect x="584" y="359.3" width="68" height="28" rx="6" fill="#e8ddee" fill-opacity="0.7" stroke="#d6c9de" stroke-opacity="0.7"/><rect x="579" y="364.3" width="68" height="28" rx="6" class="lin"/><text x="613" y="383.5" class="lbl" font-size="15.5">Linear</text></g>
<g id="linear-v"><rect x="589" y="432.3" width="68" height="27.7" rx="6" fill="#ece4f0" fill-opacity="0.5" stroke="#ddd3e3" stroke-opacity="0.6"/><rect x="584" y="437.3" width="68" height="27.7" rx="6" fill="#e8ddee" fill-opacity="0.7" stroke="#d6c9de" stroke-opacity="0.7"/><rect x="579" y="442.3" width="68" height="27.7" rx="6" class="lin"/><text x="613" y="461.5" class="lbl" font-size="15.5">Linear</text></g>
<g class="serif it" font-size="15" fill="#111"><text x="556" y="295">Q</text><text x="556" y="374">K</text><text x="556" y="451">V</text></g>
<g id="matmul-norm"><rect x="687.3" y="296" width="58.7" height="56.7" rx="8" class="box"/><rect x="691.7" y="302.3" width="19" height="45" class="mm"/><rect x="723.3" y="302.3" width="18.4" height="45" class="norm"/><text transform="translate(701.2,324.8) rotate(90)" class="lbl" font-size="11.5" dominant-baseline="central">MatMul</text><text transform="translate(732.5,324.8) rotate(90)" class="lbl" font-size="12" dominant-baseline="central">Norm</text></g>

<!-- panel (c) matrices -->
<g id="attention-matrix">
<rect x="781.7" y="308.3" width="98.3" height="97.7" class="mx"/>
<g>
<circle cx="790" cy="316" r="7.3" fill="#bcd4f3"/><circle cx="806.3" cy="316" r="7.3" fill="#d5e5fa"/><circle cx="822.7" cy="316" r="7.3" fill="#bcd4f3"/><circle cx="839" cy="316" r="7.3" fill="#d5e5fa"/><circle cx="855.3" cy="316" r="7.3" fill="#bcd4f3"/><circle cx="871.7" cy="316" r="7.3" fill="#d5e5fa"/>
<circle cx="790" cy="332.3" r="7.3" fill="#d5e5fa"/><circle cx="806.3" cy="332.3" r="7.3" fill="#d5e5fa"/><circle cx="822.7" cy="332.3" r="7.3" fill="#d5e5fa"/><circle cx="839" cy="332.3" r="7.3" fill="#d5e5fa"/><circle cx="855.3" cy="332.3" r="7.3" fill="#d5e5fa"/><circle cx="871.7" cy="332.3" r="7.3" fill="#d5e5fa"/>
<circle cx="790" cy="348.7" r="7.3" fill="#d5e5fa"/><circle cx="806.3" cy="348.7" r="7.3" fill="#d5e5fa"/><circle cx="822.7" cy="348.7" r="7.3" fill="#bcd4f3"/><circle cx="839" cy="348.7" r="7.3" fill="#d5e5fa"/><circle cx="855.3" cy="348.7" r="7.3" fill="#bcd4f3"/><circle cx="871.7" cy="348.7" r="7.3" fill="#d5e5fa"/>
<circle cx="790" cy="365" r="7.3" fill="#d5e5fa"/><circle cx="806.3" cy="365" r="7.3" fill="#d5e5fa"/><circle cx="822.7" cy="365" r="7.3" fill="#d5e5fa"/><circle cx="839" cy="365" r="7.3" fill="#d5e5fa"/><circle cx="855.3" cy="365" r="7.3" fill="#d5e5fa"/><circle cx="871.7" cy="365" r="7.3" fill="#d5e5fa"/>
<circle cx="790" cy="381.3" r="7.3" fill="#d5e5fa"/><circle cx="806.3" cy="381.3" r="7.3" fill="#d5e5fa"/><circle cx="822.7" cy="381.3" r="7.3" fill="#bcd4f3"/><circle cx="839" cy="381.3" r="7.3" fill="#d5e5fa"/><circle cx="855.3" cy="381.3" r="7.3" fill="#d5e5fa"/><circle cx="871.7" cy="381.3" r="7.3" fill="#d5e5fa"/>
<circle cx="790" cy="397.7" r="7.3" fill="#bcd4f3"/><circle cx="806.3" cy="397.7" r="7.3" fill="#d5e5fa"/><circle cx="822.7" cy="397.7" r="7.3" fill="#d5e5fa"/><circle cx="839" cy="397.7" r="7.3" fill="#d5e5fa"/><circle cx="855.3" cy="397.7" r="7.3" fill="#bcd4f3"/><circle cx="871.7" cy="397.7" r="7.3" fill="#d5e5fa"/>
</g>
<rect x="781.7" y="341" width="98.3" height="32.3" class="band"/>
<text x="831" y="356" class="mt">Attribute</text>
<text x="831" y="370.7" class="mt" textLength="96" lengthAdjust="spacingAndGlyphs">Attention Matrix</text>
</g>
<g id="dot-op-c"><circle cx="890.7" cy="356.7" r="8" class="op"/><text x="890.7" y="360.5" class="lbl" font-size="12">·</text></g>
<g id="scale-matrix">
<rect x="905" y="307.3" width="97.7" height="98.7" class="mx"/>
<g>
<circle cx="913.3" cy="315" r="7.3" fill="#e8e8e8"/><circle cx="929.6" cy="315" r="7.3" fill="#e8e8e8"/><circle cx="945.9" cy="315" r="7.3" fill="#5fa8f3"/><circle cx="962.2" cy="315" r="7.3" fill="#e8e8e8"/><circle cx="978.5" cy="315" r="7.3" fill="#e8e8e8"/><circle cx="994.8" cy="315" r="7.3" fill="#ffd75e"/>
<circle cx="913.3" cy="331.7" r="7.3" fill="#e8e8e8"/><circle cx="929.6" cy="331.7" r="7.3" fill="#e8e8e8"/><circle cx="945.9" cy="331.7" r="7.3" fill="#e8e8e8"/><circle cx="962.2" cy="331.7" r="7.3" fill="#e8e8e8"/><circle cx="978.5" cy="331.7" r="7.3" fill="#e8e8e8"/><circle cx="994.8" cy="331.7" r="7.3" fill="#e8e8e8"/>
<circle cx="913.3" cy="348.3" r="7.3" fill="#9fcfc0"/><circle cx="929.6" cy="348.3" r="7.3" fill="#e8e8e8"/><circle cx="945.9" cy="348.3" r="7.3" fill="#e8e8e8"/><circle cx="962.2" cy="348.3" r="7.3" fill="#f5a8bc"/><circle cx="978.5" cy="348.3" r="7.3" fill="#f6b070"/><circle cx="994.8" cy="348.3" r="7.3" fill="#e8e8e8"/>
<circle cx="913.3" cy="365" r="7.3" fill="#e8e8e8"/><circle cx="929.6" cy="365" r="7.3" fill="#e8e8e8"/><circle cx="945.9" cy="365" r="7.3" fill="#f5a8bc"/><circle cx="962.2" cy="365" r="7.3" fill="#e8e8e8"/><circle cx="978.5" cy="365" r="7.3" fill="#e8e8e8"/><circle cx="994.8" cy="365" r="7.3" fill="#e8e8e8"/>
<circle cx="913.3" cy="380.3" r="7.3" fill="#e8e8e8"/><circle cx="929.6" cy="380.3" r="7.3" fill="#e8e8e8"/><circle cx="945.9" cy="380.3" r="7.3" fill="#f5a25d"/><circle cx="962.2" cy="380.3" r="7.3" fill="#e8e8e8"/><circle cx="978.5" cy="380.3" r="7.3" fill="#e8e8e8"/><circle cx="994.8" cy="380.3" r="7.3" fill="#b6dca4"/>
<circle cx="913.3" cy="396.7" r="7.3" fill="#ffd75e"/><circle cx="929.6" cy="396.7" r="7.3" fill="#e8e8e8"/><circle cx="945.9" cy="396.7" r="7.3" fill="#e8e8e8"/><circle cx="962.2" cy="396.7" r="7.3" fill="#e8e8e8"/><circle cx="978.5" cy="396.7" r="7.3" fill="#a8d59a"/><circle cx="994.8" cy="396.7" r="7.3" fill="#e8e8e8"/>
</g>
<rect x="905" y="341" width="97.7" height="32.3" class="band"/>
<text x="953.3" y="354" class="mt">Interaction</text>
<text x="953.3" y="369.3" class="mt">Scale Matrix</text>
</g>
<g id="plus-op-c"><circle cx="1014" cy="355" r="8" class="op"/><text x="1014" y="358.5" class="lbl" font-size="10">+</text></g>
<g id="offset-matrix">
<rect x="1025.7" y="307.3" width="97.6" height="98.7" class="mx"/>
<g>
<circle cx="1034" cy="315" r="7.3" fill="#e8d6ee"/><circle cx="1050.3" cy="315" r="7.3" fill="#f4e6f8"/><circle cx="1066.6" cy="315" r="7.3" fill="#5fa8f3"/><circle cx="1082.9" cy="315" r="7.3" fill="#f4e6f8"/><circle cx="1099.2" cy="315" r="7.3" fill="#f4e6f8"/><circle cx="1115.5" cy="315" r="7.3" fill="#ffd75e"/>
<circle cx="1034" cy="331.7" r="7.3" fill="#f4e6f8"/><circle cx="1050.3" cy="331.7" r="7.3" fill="#f4e6f8"/><circle cx="1066.6" cy="331.7" r="7.3" fill="#f4e6f8"/><circle cx="1082.9" cy="331.7" r="7.3" fill="#f4e6f8"/><circle cx="1099.2" cy="331.7" r="7.3" fill="#f4e6f8"/><circle cx="1115.5" cy="331.7" r="7.3" fill="#f4e6f8"/>
<circle cx="1034" cy="348.3" r="7.3" fill="#9fcfc0"/><circle cx="1050.3" cy="348.3" r="7.3" fill="#f4e6f8"/><circle cx="1066.6" cy="348.3" r="7.3" fill="#f4e6f8"/><circle cx="1082.9" cy="348.3" r="7.3" fill="#f5a8bc"/><circle cx="1099.2" cy="348.3" r="7.3" fill="#f6b070"/><circle cx="1115.5" cy="348.3" r="7.3" fill="#f4e6f8"/>
<circle cx="1034" cy="365" r="7.3" fill="#f4e6f8"/><circle cx="1050.3" cy="365" r="7.3" fill="#f4e6f8"/><circle cx="1066.6" cy="365" r="7.3" fill="#f5a8bc"/><circle cx="1082.9" cy="365" r="7.3" fill="#f4e6f8"/><circle cx="1099.2" cy="365" r="7.3" fill="#f4e6f8"/><circle cx="1115.5" cy="365" r="7.3" fill="#f4e6f8"/>
<circle cx="1034" cy="380.3" r="7.3" fill="#f4e6f8"/><circle cx="1050.3" cy="380.3" r="7.3" fill="#f4e6f8"/><circle cx="1066.6" cy="380.3" r="7.3" fill="#f5a25d"/><circle cx="1082.9" cy="380.3" r="7.3" fill="#f4e6f8"/><circle cx="1099.2" cy="380.3" r="7.3" fill="#f4e6f8"/><circle cx="1115.5" cy="380.3" r="7.3" fill="#b6dca4"/>
<circle cx="1034" cy="396.7" r="7.3" fill="#ffd75e"/><circle cx="1050.3" cy="396.7" r="7.3" fill="#f4e6f8"/><circle cx="1066.6" cy="396.7" r="7.3" fill="#e8d6ee"/><circle cx="1082.9" cy="396.7" r="7.3" fill="#f4e6f8"/><circle cx="1099.2" cy="396.7" r="7.3" fill="#a8d59a"/><circle cx="1115.5" cy="396.7" r="7.3" fill="#f4e6f8"/>
</g>
<rect x="1025.7" y="341" width="97.6" height="32.3" class="band"/>
<text x="1073.3" y="354" class="mt">Interaction</text>
<text x="1073.3" y="369.3" class="mt">Offset Matrix</text>
</g>
<g id="times-op"><circle cx="1169.3" cy="351.7" r="8" fill="#f2f2f2" stroke="#999"/><text x="1169.3" y="355.5" class="lbl" font-size="11">×</text></g>

<!-- right prediction -->
<g id="prediction">
<text x="1260" y="104" class="serif it" font-size="20" text-anchor="middle" fill="#111">Z</text>
<polygon points="1260,113 1268.5,122.5 1264,122.5 1264,137 1256,137 1256,122.5 1251.5,122.5" fill="#fff" stroke="#444"/>
<rect x="1215" y="145" width="92" height="17" fill="#fff" stroke="#444"/>
<text x="1261" y="158" class="lbl" font-size="13">Softmax</text>
<polygon points="1260.5,167 1269.5,177 1265,177 1265,193 1256,193 1256,177 1251.5,177" fill="#fff" stroke="#444"/>
</g>
<g id="H-hat">
<rect x="1204" y="198" width="116" height="74" fill="none" stroke="#888" stroke-dasharray="1.5 1.5"/>
<rect x="1208" y="202" width="109" height="19" fill="#f2f2f2" stroke="#888"/>
<rect x="1208" y="223" width="109" height="19" fill="#f2f2f2" stroke="#888"/>
<rect x="1208" y="249" width="109" height="19" fill="#f2f2f2" stroke="#888"/>
<rect x="1208" y="273" width="109" height="19" fill="#fdf3d3" stroke="#999"/>
<rect x="1208" y="293" width="109" height="19" fill="#fdf3d3" stroke="#999"/>
<g fill="#fff" stroke="#222" stroke-width="1">
<circle cx="1217" cy="211.5" r="8.3"/><circle cx="1235.2" cy="211.5" r="8.3"/><circle cx="1253.4" cy="211.5" r="8.3"/><circle cx="1271.6" cy="211.5" r="8.3"/><circle cx="1289.8" cy="211.5" r="8.3"/><circle cx="1308" cy="211.5" r="8.3"/>
<circle cx="1217" cy="232.5" r="8.3"/><circle cx="1235.2" cy="232.5" r="8.3"/><circle cx="1253.4" cy="232.5" r="8.3"/><circle cx="1271.6" cy="232.5" r="8.3"/><circle cx="1289.8" cy="232.5" r="8.3"/><circle cx="1308" cy="232.5" r="8.3"/>
<circle cx="1217" cy="258.5" r="8.3"/><circle cx="1235.2" cy="258.5" r="8.3"/><circle cx="1253.4" cy="258.5" r="8.3"/><circle cx="1271.6" cy="258.5" r="8.3"/><circle cx="1289.8" cy="258.5" r="8.3"/><circle cx="1308" cy="258.5" r="8.3"/>
</g>
<g fill="#e0e0e0">
<circle cx="1217" cy="282.5" r="8.3"/><circle cx="1235.2" cy="282.5" r="8.3"/><circle cx="1253.4" cy="282.5" r="8.3"/><circle cx="1271.6" cy="282.5" r="8.3"/><circle cx="1289.8" cy="282.5" r="8.3"/><circle cx="1308" cy="282.5" r="8.3"/>
<circle cx="1217" cy="302.5" r="8.3"/><circle cx="1235.2" cy="302.5" r="8.3"/><circle cx="1253.4" cy="302.5" r="8.3"/><circle cx="1271.6" cy="302.5" r="8.3"/><circle cx="1289.8" cy="302.5" r="8.3"/><circle cx="1308" cy="302.5" r="8.3"/>
</g>
<g class="dots"><line x1="1217" y1="244" x2="1217" y2="247"/><line x1="1235.2" y1="244" x2="1235.2" y2="247"/><line x1="1253.4" y1="244" x2="1253.4" y2="247"/><line x1="1271.6" y1="244" x2="1271.6" y2="247"/><line x1="1289.8" y1="244" x2="1289.8" y2="247"/><line x1="1308" y1="244" x2="1308" y2="247"/></g>
<text x="1260" y="334" class="serif it" font-size="17" text-anchor="middle" fill="#111">Ĥ</text>
</g>

<!-- connectors -->
<g id="connectors">
<path d="M766,77 H784 V90" class="ca"/>
<path d="M766,117 H784 V108.5" class="ca"/>
<path d="M792,99.3 H819" class="ca"/>
<path d="M828,78 V90.5" class="ca"/>
<path d="M836,99.3 H852" class="ca"/>
<path d="M895,100 H902 V134.5" class="ca"/>
<path d="M797,182 H826" class="ca"/>
<path d="M849,183.5 H859" class="cs"/>
<path d="M883,183 H902 V151" class="ca"/>
<path d="M909.5,142.7 H1077 V187" class="ca"/>
<path d="M960,142.7 V187" class="ca"/>
<path d="M960,206.5 V218" class="cs"/>
<path d="M1076,206.5 V218" class="cs"/>
<path d="M526,378.3 H550.7"  class="c"/>
<path d="M550.7,378.3 V300.7 H577.5" class="ca"/>
<path d="M550.7,378.3 H578" class="ca"/>
<path d="M550.7,378.3 V457 H578" class="ca"/>
<path d="M656.7,290.7 H670.7 V369 H656.7" class="c"/>
<path d="M670.7,323.3 H686.5" class="ca"/>
<path d="M710.7,324.8 H722.5" class="cs"/>
<path d="M746,323.3 H769" class="ca"/>
<path d="M657,447.3 H1169.3 V360.5" class="ca"/>
<path d="M1141,351.7 H1160.5" class="ca"/>
<path d="M1177.3,351.7 H1192 V234 H1203.5" class="ca"/>
</g>

<!-- bottom axis -->
<g id="axis">
<line x1="24" y1="523" x2="233" y2="523" class="ax" marker-start="url(#axm)" marker-end="url(#axm)"/>
<line x1="23" y1="518" x2="23" y2="528" class="ax"/><line x1="234" y1="518" x2="234" y2="528" class="ax"/>
<line x1="239" y1="523" x2="1177" y2="523" class="ax" marker-start="url(#axm)" marker-end="url(#axm)"/>
<line x1="238" y1="518" x2="238" y2="528" class="ax"/><line x1="1178" y1="518" x2="1178" y2="528" class="ax"/>
<line x1="1184" y1="523" x2="1333" y2="523" class="ax" marker-start="url(#axm)" marker-end="url(#axm)"/>
<line x1="1183" y1="518" x2="1183" y2="528" class="ax"/><line x1="1334" y1="518" x2="1334" y2="528" class="ax"/>
<text x="127" y="554" class="axt">User-Service</text>
<text x="127" y="577" class="axt">Heterogeneous Interaction Graph</text>
<text x="706" y="562" class="axt">Dual High-order User Feature Extraction</text>
<text x="1272" y="554" class="axt">Service User</text>
<text x="1272" y="577" class="axt">Attribute Prediction</text>
</g>
</svg>
